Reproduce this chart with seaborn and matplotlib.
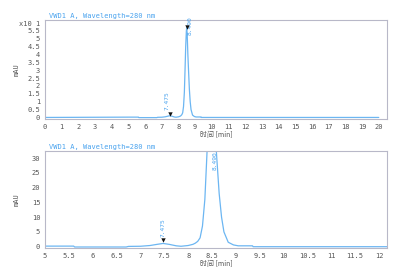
import matplotlib
matplotlib.use("Agg")
import matplotlib.pyplot as plt
import seaborn as sns
import pandas as pd
from matplotlib.ticker import FixedLocator, FixedFormatter

# ---- data ----
time_min = [0.0, 5.0, 5.6, 5.62, 6.7, 6.75, 7.0, 7.2, 7.35, 7.475, 7.6, 7.75, 7.85,
            8.0, 8.1, 8.15, 8.2, 8.25, 8.3, 8.35, 8.39, 8.43, 8.47, 8.49, 8.52,
            8.56, 8.6, 8.65, 8.7, 8.75, 8.84, 8.95, 9.05, 9.35, 9.36, 12.2, 20.0]
signal_mau = [0.0, 0.2, 0.2, -0.1, -0.1, 0.1, 0.15, 0.4, 0.8, 1.1, 0.8, 0.3, 0.15,
              0.4, 0.8, 1.2, 1.8, 3.0, 7.0, 16.0, 30.0, 45.0, 55.0, 57.0, 53.0,
              40.0, 30.0, 18.0, 10.0, 5.0, 1.5, 0.6, 0.3, 0.3, 0.0, 0.0, 0.0]
peak_times = [7.475, 8.49]
peak_labels = ["7.475", "8.490"]
peak_marks = [2.2, 57.7]
title = "VWD1 A, Wavelength=280 nm"
xlabel = "时间 [min]"
ylabel = "mAU"
top_yticks = [0, 5, 10, 15, 20, 25, 30, 35, 40, 45, 50, 55, 60]
top_yticklabels = ["0", "0.5", "1", "1.5", "2", "2.5", "3", "3.5", "4", "4.5",
                   "5", "5.5", "x10 1"]
top_xticks = list(range(0, 21))
bot_xticks = [5, 5.5, 6, 6.5, 7, 7.5, 8, 8.5, 9, 9.5, 10, 10.5, 11, 11.5, 12]
bot_yticks = [0, 5, 10, 15, 20, 25, 30]

df = pd.DataFrame({"time": time_min, "mAU": signal_mau})
pk = pd.DataFrame({"time": peak_times, "mark": peak_marks})

sns.set_theme(style="white")
plt.rcParams["font.family"] = ["DejaVu Sans Mono", "Noto Sans CJK SC"]

LINE = "#6cb6f2"
TXT = "#4aa3ee"
SPINE = "#b8b8c8"
TICK = "#555555"

fig = plt.figure(figsize=(3.95, 2.73), dpi=100)
ax1 = fig.add_axes([0.114, 0.564, 0.866, 0.363])
ax2 = fig.add_axes([0.114, 0.092, 0.866, 0.355])


def style(ax):
    for s in ax.spines.values():
        s.set_color(SPINE)
        s.set_linewidth(0.8)
    ax.tick_params(axis="both", which="both", direction="out", length=2,
                   width=0.6, color=TICK, labelsize=5, labelcolor=TICK, pad=1.5)
    ax.set_xlabel(xlabel, fontsize=5, color=TICK, labelpad=1,
                  family=["Noto Sans CJK SC", "DejaVu Sans"])
    ax.set_ylabel(ylabel, fontsize=5, color=TICK)
    ax.yaxis.set_label_coords(-0.075, 0.5)
    ax.text(0.012, 1.01, title, transform=ax.transAxes, fontsize=5,
            color=TXT, ha="left", va="bottom")


# ---- top panel ----
sns.lineplot(data=df, x="time", y="mAU", ax=ax1, color=LINE, linewidth=0.9)
sns.scatterplot(data=pk, x="time", y="mark", ax=ax1, marker="v", color="#111111",
                s=10, linewidth=0, zorder=5)
ax1.set_xlim(0, 20.5)
ax1.set_ylim(-1.0, 62)
ax1.xaxis.set_major_locator(FixedLocator(top_xticks))
ax1.yaxis.set_major_locator(FixedLocator(top_yticks))
ax1.yaxis.set_major_formatter(FixedFormatter(top_yticklabels))
style(ax1)
ax1.text(7.33, 4.6, peak_labels[0], rotation=90, fontsize=4.5, color=TXT,
         ha="center", va="bottom")
ax1.text(8.68, 52.5, peak_labels[1], rotation=90, fontsize=4.5, color=TXT,
         ha="center", va="bottom", clip_on=False)

# ---- bottom panel ----
sns.lineplot(data=df, x="time", y="mAU", ax=ax2, color=LINE, linewidth=0.9)
sns.scatterplot(data=pk, x="time", y="mark", ax=ax2, marker="v", color="#111111",
                s=10, linewidth=0, zorder=5)
ax2.set_xlim(5, 12.17)
ax2.set_ylim(-0.4, 32.4)
ax2.xaxis.set_major_locator(FixedLocator(bot_xticks))
ax2.xaxis.set_major_formatter(FixedFormatter([f"{v:g}" for v in bot_xticks]))
ax2.yaxis.set_major_locator(FixedLocator(bot_yticks))
style(ax2)
ax2.text(7.475, 3.2, peak_labels[0], rotation=90, fontsize=4.5, color=TXT,
         ha="center", va="bottom")
ax2.text(8.56, 32.3, peak_labels[1], rotation=90, fontsize=4.5, color=TXT,
         ha="center", va="top")

fig.savefig("out.png", dpi=100, facecolor="white")
